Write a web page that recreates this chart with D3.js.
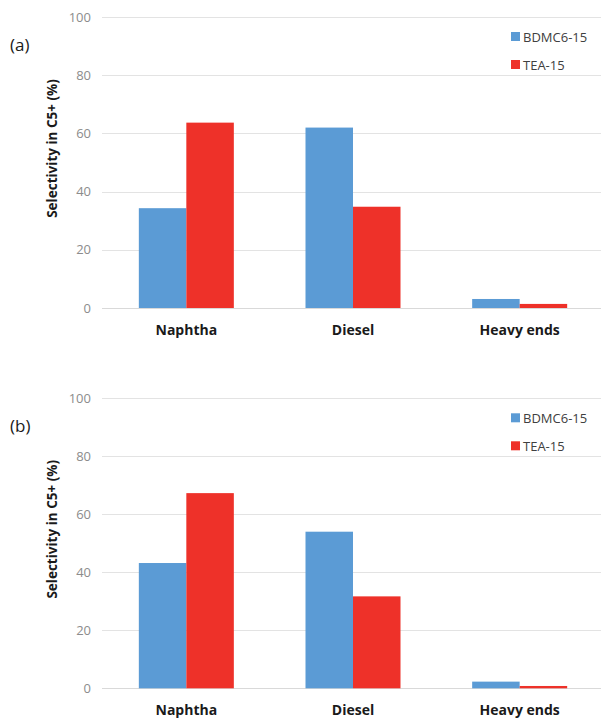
<!DOCTYPE html>
<html><head><meta charset="utf-8">
<script src="https://cdn.jsdelivr.net/npm/d3@7"></script>
<style>body{margin:0;background:#fff}svg{display:block}</style>
</head><body>
<script>
const categories = ["Naphtha", "Diesel", "Heavy ends"];
const seriesNames = ["BDMC6-15", "TEA-15"];
const panelLabels = ["(a)", "(b)"];
const panelA_BDMC = [34.3, 62.0, 3.1];
const panelA_TEA = [63.7, 34.8, 1.4];
const panelB_BDMC = [43.2, 54.0, 2.3];
const panelB_TEA = [67.3, 31.7, 0.8];
const yTicks = [0, 20, 40, 60, 80, 100];
const yTitle = "Selectivity in C5+ (%)";
const colors = ["#5B9BD5", "#EE3129"];

const W = 601, H = 718;
const svg = d3.select("body").append("svg").attr("width", W).attr("height", H);
const font = "'Open Sans', sans-serif";

function panel(top, bottom, label, s1, s2) {
  const g = svg.append("g");
  const y = d3.scaleLinear().domain([0, 100]).range([bottom, top]);
  const x0 = d3.scaleBand().domain(categories).range([103, 603]).paddingInner(0.43).paddingOuter(0.215);
  const x1 = d3.scaleBand().domain(seriesNames).range([0, x0.bandwidth()]);
  // gridlines
  g.selectAll("line.grid").data(yTicks).join("line")
    .attr("x1", 102).attr("x2", W).attr("y1", d => Math.round(y(d)) + 0.5).attr("y2", d => Math.round(y(d)) + 0.5)
    .attr("stroke", d => d === 0 ? "#d9d9d9" : "#e3e3e3").attr("stroke-width", 1);
  // y axis labels
  const ax = g.append("g").attr("transform", "translate(91,0)")
    .call(d3.axisLeft(y).tickValues(yTicks).tickSize(0).tickPadding(0));
  ax.select(".domain").remove();
  ax.selectAll("text").attr("fill", "#8c8c8c").style("font-family", font).style("font-size", "13px");
  // bars
  const data = categories.map((c, i) => ({c, vals: [s1[i], s2[i]]}));
  const grp = g.selectAll("g.cat").data(data).join("g").attr("transform", d => `translate(${x0(d.c)},0)`);
  grp.selectAll("rect").data(d => d.vals.map((v, j) => ({v, s: seriesNames[j], j}))).join("rect")
    .attr("x", d => x1(d.s)).attr("width", x1.bandwidth())
    .attr("y", d => y(d.v)).attr("height", d => y(0) - y(d.v))
    .attr("fill", d => colors[d.j]);
  // category labels
  g.selectAll("text.cat").data(categories).join("text")
    .attr("x", d => x0(d) + x0.bandwidth() / 2).attr("y", bottom + 27)
    .attr("text-anchor", "middle").attr("font-weight", "bold").attr("fill", "#1a1a1a")
    .style("font-family", font).style("font-size", "14px").text(d => d);
  // y title
  g.append("text").attr("transform", `translate(57,${(top + bottom) / 2 - 14}) rotate(-90)`)
    .attr("text-anchor", "middle").attr("font-weight", "bold").attr("fill", "#1a1a1a")
    .style("font-family", font).style("font-size", "13.5px").text(yTitle);
  // panel label
  g.append("text").attr("x", 10).attr("y", top + 34).attr("fill", "#1a1a1a")
    .style("font-family", font).style("font-size", "17px").text(label);
  // legend
  const lg = g.selectAll("g.leg").data(seriesNames).join("g")
    .attr("transform", (d, i) => `translate(511,${top + 15 + i * 28})`);
  lg.append("rect").attr("width", 9).attr("height", 9).attr("fill", (d, i) => colors[i]);
  lg.append("text").attr("x", 12).attr("y", 9.5).attr("fill", "#404040")
    .style("font-family", font).style("font-size", "13px").text(d => d);
}

panel(17, 308, panelLabels[0], panelA_BDMC, panelA_TEA);
panel(398.3, 688.3, panelLabels[1], panelB_BDMC, panelB_TEA);
</script>
</body></html>
